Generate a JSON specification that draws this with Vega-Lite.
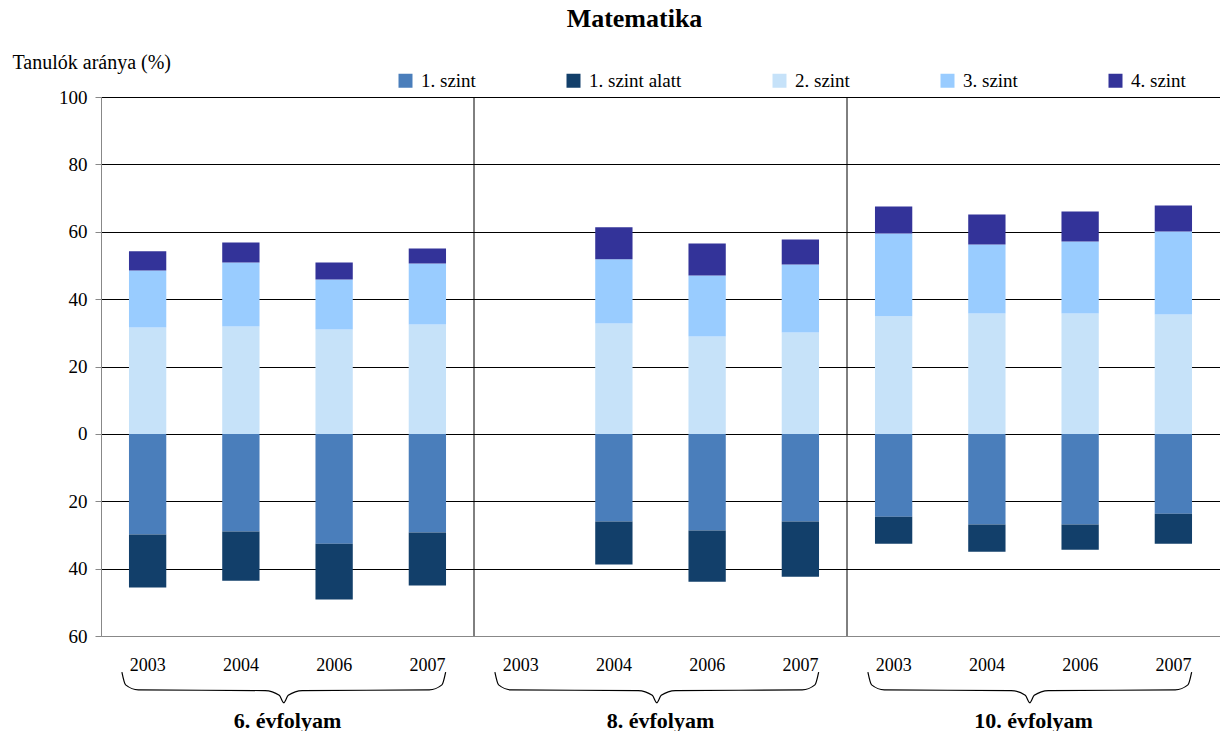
{
  "$schema": "https://vega.github.io/schema/vega-lite/v6.json",
  "padding": {"left": 12, "top": 6, "right": 0, "bottom": 0},
  "width": 1119,
  "height": 539,
  "title": {"text": "Matematika", "font": "Liberation Serif", "fontSize": 26, "fontWeight": "bold", "anchor": "middle", "dx": -26, "offset": 20, "color": "#000"},
  "config": {"view": {"stroke": null}, "font": "Liberation Serif"},
  "datasets": {
    "scores": [
      {"grade": "6. évfolyam", "year": "2003", "level": "2. szint", "value": 31.6},
      {"grade": "6. évfolyam", "year": "2003", "level": "3. szint", "value": 16.9},
      {"grade": "6. évfolyam", "year": "2003", "level": "4. szint", "value": 5.7},
      {"grade": "6. évfolyam", "year": "2003", "level": "1. szint", "value": -29.9},
      {"grade": "6. évfolyam", "year": "2003", "level": "1. szint alatt", "value": -15.7},
      {"grade": "6. évfolyam", "year": "2004", "level": "2. szint", "value": 31.9},
      {"grade": "6. évfolyam", "year": "2004", "level": "3. szint", "value": 19.0},
      {"grade": "6. évfolyam", "year": "2004", "level": "4. szint", "value": 5.9},
      {"grade": "6. évfolyam", "year": "2004", "level": "1. szint", "value": -29.0},
      {"grade": "6. évfolyam", "year": "2004", "level": "1. szint alatt", "value": -14.6},
      {"grade": "6. évfolyam", "year": "2006", "level": "2. szint", "value": 31.0},
      {"grade": "6. évfolyam", "year": "2006", "level": "3. szint", "value": 14.8},
      {"grade": "6. évfolyam", "year": "2006", "level": "4. szint", "value": 5.1},
      {"grade": "6. évfolyam", "year": "2006", "level": "1. szint", "value": -32.6},
      {"grade": "6. évfolyam", "year": "2006", "level": "1. szint alatt", "value": -16.6},
      {"grade": "6. évfolyam", "year": "2007", "level": "2. szint", "value": 32.5},
      {"grade": "6. évfolyam", "year": "2007", "level": "3. szint", "value": 18.1},
      {"grade": "6. évfolyam", "year": "2007", "level": "4. szint", "value": 4.4},
      {"grade": "6. évfolyam", "year": "2007", "level": "1. szint", "value": -29.3},
      {"grade": "6. évfolyam", "year": "2007", "level": "1. szint alatt", "value": -15.7},
      {"grade": "8. évfolyam", "year": "2004", "level": "2. szint", "value": 32.8},
      {"grade": "8. évfolyam", "year": "2004", "level": "3. szint", "value": 19.0},
      {"grade": "8. évfolyam", "year": "2004", "level": "4. szint", "value": 9.5},
      {"grade": "8. évfolyam", "year": "2004", "level": "1. szint", "value": -26.0},
      {"grade": "8. évfolyam", "year": "2004", "level": "1. szint alatt", "value": -12.8},
      {"grade": "8. évfolyam", "year": "2006", "level": "2. szint", "value": 28.9},
      {"grade": "8. évfolyam", "year": "2006", "level": "3. szint", "value": 18.1},
      {"grade": "8. évfolyam", "year": "2006", "level": "4. szint", "value": 9.5},
      {"grade": "8. évfolyam", "year": "2006", "level": "1. szint", "value": -28.7},
      {"grade": "8. évfolyam", "year": "2006", "level": "1. szint alatt", "value": -15.2},
      {"grade": "8. évfolyam", "year": "2007", "level": "2. szint", "value": 30.1},
      {"grade": "8. évfolyam", "year": "2007", "level": "3. szint", "value": 20.2},
      {"grade": "8. évfolyam", "year": "2007", "level": "4. szint", "value": 7.4},
      {"grade": "8. évfolyam", "year": "2007", "level": "1. szint", "value": -26.0},
      {"grade": "8. évfolyam", "year": "2007", "level": "1. szint alatt", "value": -16.4},
      {"grade": "10. évfolyam", "year": "2003", "level": "2. szint", "value": 34.9},
      {"grade": "10. évfolyam", "year": "2003", "level": "3. szint", "value": 24.6},
      {"grade": "10. évfolyam", "year": "2003", "level": "4. szint", "value": 8.0},
      {"grade": "10. évfolyam", "year": "2003", "level": "1. szint", "value": -24.6},
      {"grade": "10. évfolyam", "year": "2003", "level": "1. szint alatt", "value": -8.0},
      {"grade": "10. évfolyam", "year": "2004", "level": "2. szint", "value": 35.7},
      {"grade": "10. évfolyam", "year": "2004", "level": "3. szint", "value": 20.5},
      {"grade": "10. évfolyam", "year": "2004", "level": "4. szint", "value": 8.9},
      {"grade": "10. évfolyam", "year": "2004", "level": "1. szint", "value": -26.9},
      {"grade": "10. évfolyam", "year": "2004", "level": "1. szint alatt", "value": -8.1},
      {"grade": "10. évfolyam", "year": "2006", "level": "2. szint", "value": 35.7},
      {"grade": "10. évfolyam", "year": "2006", "level": "3. szint", "value": 21.4},
      {"grade": "10. évfolyam", "year": "2006", "level": "4. szint", "value": 8.9},
      {"grade": "10. évfolyam", "year": "2006", "level": "1. szint", "value": -26.9},
      {"grade": "10. évfolyam", "year": "2006", "level": "1. szint alatt", "value": -7.5},
      {"grade": "10. évfolyam", "year": "2007", "level": "2. szint", "value": 35.4},
      {"grade": "10. évfolyam", "year": "2007", "level": "3. szint", "value": 24.7},
      {"grade": "10. évfolyam", "year": "2007", "level": "4. szint", "value": 7.7},
      {"grade": "10. évfolyam", "year": "2007", "level": "1. szint", "value": -23.7},
      {"grade": "10. évfolyam", "year": "2007", "level": "1. szint alatt", "value": -8.9}
    ],
    "yearlabels": [
      {"grade": "6. évfolyam", "year": "2003"},
      {"grade": "6. évfolyam", "year": "2004"},
      {"grade": "6. évfolyam", "year": "2006"},
      {"grade": "6. évfolyam", "year": "2007"},
      {"grade": "8. évfolyam", "year": "2003"},
      {"grade": "8. évfolyam", "year": "2004"},
      {"grade": "8. évfolyam", "year": "2006"},
      {"grade": "8. évfolyam", "year": "2007"},
      {"grade": "10. évfolyam", "year": "2003"},
      {"grade": "10. évfolyam", "year": "2004"},
      {"grade": "10. évfolyam", "year": "2006"},
      {"grade": "10. évfolyam", "year": "2007"}
    ],
    "separators": [
      {"grade": "8. évfolyam"},
      {"grade": "10. évfolyam"}
    ],
    "brace": [
      {"grade": "6. évfolyam", "bx": 0.056, "by": -70.7},
      {"grade": "6. évfolyam", "bx": 0.066, "by": -74.5},
      {"grade": "6. évfolyam", "bx": 0.100, "by": -76.0},
      {"grade": "6. évfolyam", "bx": 0.440, "by": -76.2},
      {"grade": "6. évfolyam", "bx": 0.478, "by": -77.6},
      {"grade": "6. évfolyam", "bx": 0.490, "by": -79.8},
      {"grade": "6. évfolyam", "bx": 0.502, "by": -77.6},
      {"grade": "6. évfolyam", "bx": 0.540, "by": -76.2},
      {"grade": "6. évfolyam", "bx": 0.880, "by": -76.0},
      {"grade": "6. évfolyam", "bx": 0.914, "by": -74.5},
      {"grade": "6. évfolyam", "bx": 0.924, "by": -70.7},
      {"grade": "8. évfolyam", "bx": 1.056, "by": -70.7},
      {"grade": "8. évfolyam", "bx": 1.066, "by": -74.5},
      {"grade": "8. évfolyam", "bx": 1.100, "by": -76.0},
      {"grade": "8. évfolyam", "bx": 1.440, "by": -76.2},
      {"grade": "8. évfolyam", "bx": 1.478, "by": -77.6},
      {"grade": "8. évfolyam", "bx": 1.490, "by": -79.8},
      {"grade": "8. évfolyam", "bx": 1.502, "by": -77.6},
      {"grade": "8. évfolyam", "bx": 1.540, "by": -76.2},
      {"grade": "8. évfolyam", "bx": 1.880, "by": -76.0},
      {"grade": "8. évfolyam", "bx": 1.914, "by": -74.5},
      {"grade": "8. évfolyam", "bx": 1.924, "by": -70.7},
      {"grade": "10. évfolyam", "bx": 2.056, "by": -70.7},
      {"grade": "10. évfolyam", "bx": 2.066, "by": -74.5},
      {"grade": "10. évfolyam", "bx": 2.100, "by": -76.0},
      {"grade": "10. évfolyam", "bx": 2.440, "by": -76.2},
      {"grade": "10. évfolyam", "bx": 2.478, "by": -77.6},
      {"grade": "10. évfolyam", "bx": 2.490, "by": -79.8},
      {"grade": "10. évfolyam", "bx": 2.502, "by": -77.6},
      {"grade": "10. évfolyam", "bx": 2.540, "by": -76.2},
      {"grade": "10. évfolyam", "bx": 2.880, "by": -76.0},
      {"grade": "10. évfolyam", "bx": 2.914, "by": -74.5},
      {"grade": "10. évfolyam", "bx": 2.924, "by": -70.7}
    ]
  },
  "layer": [
    {
      "layer": [
        {
          "data": {"name": "scores"},
          "mark": {"type": "bar"},
          "encoding": {
            "x": {
              "field": "grade", "type": "nominal",
              "scale": {"domain": ["6. évfolyam", "8. évfolyam", "10. évfolyam"], "paddingInner": 0, "paddingOuter": 0},
              "axis": {"title": null, "ticks": false, "grid": false, "domainColor": "#888", "labelAngle": 0, "labelFont": "Liberation Serif", "labelFontSize": 22, "labelFontWeight": "bold", "labelColor": "#000", "labelPadding": 74}
            },
            "xOffset": {
              "field": "year", "type": "nominal",
              "scale": {"domain": ["2003", "2004", "2006", "2007"], "paddingInner": 0.6, "paddingOuter": 0.3}
            },
            "y": {
              "field": "value", "type": "quantitative", "stack": "zero",
              "title": "Tanulók aránya (%)",
              "scale": {"domain": [-60, 100], "nice": false},
              "axis": {
                "values": [-60, -40, -20, 0, 20, 40, 60, 80, 100],
                "labelExpr": "abs(datum.value) + ''",
                "title": "Tanulók aránya (%)",
                "titleAngle": 0, "titleAlign": "left", "titleBaseline": "middle",
                "titleX": -89, "titleY": -35,
                "titleFont": "Liberation Serif", "titleFontSize": 20, "titleFontWeight": "normal", "titleColor": "#000",
                "labelFont": "Liberation Serif", "labelFontSize": 19, "labelColor": "#000", "labelPadding": 8,
                "tickColor": "#888", "tickSize": 6, "domainColor": "#888",
                "gridColor": {"condition": {"test": "datum.value === -60", "value": "#888"}, "value": "#000"},
                "gridOpacity": 1, "gridWidth": 1
              }
            },
            "color": {
              "field": "level", "type": "nominal",
              "scale": {
                "domain": ["1. szint", "1. szint alatt", "2. szint", "3. szint", "4. szint"],
                "range": ["#4A7EBB", "#123F6A", "#C6E2F9", "#99CCFF", "#333399"]
              },
              "legend": {
                "orient": "none", "legendX": 295, "legendY": -26, "direction": "horizontal", "title": null,
                "symbolType": "square", "symbolSize": 196, "symbolStrokeWidth": 0, "symbolOpacity": 1,
                "labelFont": "Liberation Serif", "labelFontSize": 19, "labelColor": "#000", "labelOffset": 6,
                "columnPadding": 88, "padding": 0
              }
            },
            "order": {"field": "level", "type": "nominal", "sort": "ascending"}
          }
        },
        {
          "data": {"name": "yearlabels"},
          "mark": {"type": "text", "fontSize": 18, "font": "Liberation Serif", "baseline": "middle", "align": "center", "color": "#000"},
          "encoding": {
            "x": {"field": "grade", "type": "nominal"},
            "xOffset": {"field": "year", "type": "nominal"},
            "y": {"datum": -68.9},
            "text": {"field": "year"}
          }
        },
        {
          "data": {"name": "separators"},
          "mark": {"type": "rule", "color": "#000", "strokeWidth": 1},
          "encoding": {
            "x": {"field": "grade", "type": "nominal", "bandPosition": 0},
            "y": {"datum": 100},
            "y2": {"datum": -60}
          }
        }
      ]
    },
    {
      "data": {"name": "brace"},
      "mark": {"type": "line", "interpolate": "monotone", "color": "#000", "strokeWidth": 1.2},
      "encoding": {
        "x": {"field": "bx", "type": "quantitative", "scale": {"domain": [0, 3], "nice": false, "zero": false}, "axis": null},
        "y": {"field": "by", "type": "quantitative", "title": "Tanulók aránya (%)", "scale": {"domain": [-60, 100], "nice": false}},
        "detail": {"field": "grade"}
      }
    }
  ],
  "resolve": {"scale": {"x": "independent"}}
}
